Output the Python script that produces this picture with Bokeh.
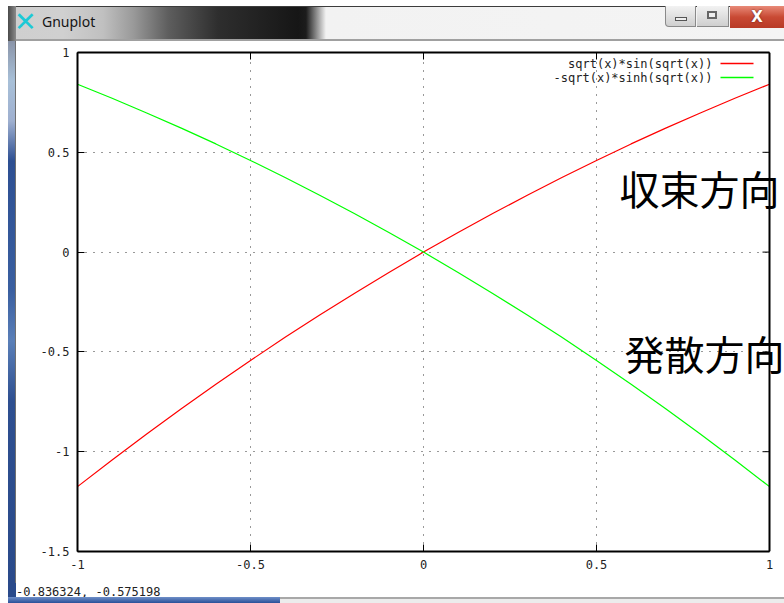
from bokeh.plotting import figure
from bokeh.models import (Range1d, FixedTicker, LinearAxis, Label, BoxAnnotation,
                          Span, Div)
from bokeh.layouts import column, row
from bokeh.embed import file_html
from bokeh.resources import INLINE

# ---------------- data ----------------
x_vals = [-1.0, -0.9, -0.8, -0.7, -0.6, -0.5, -0.4, -0.3, -0.2, -0.1, 0.0,
          0.1, 0.2, 0.3, 0.4, 0.5, 0.6, 0.7, 0.8, 0.9, 1.0]
red_vals = [-1.175, -1.042, -0.911, -0.785, -0.662, -0.543, -0.427, -0.315, -0.207, -0.102, 0.0,
            0.098, 0.193, 0.285, 0.374, 0.459, 0.542, 0.621, 0.697, 0.771, 0.841]
green_vals = [0.841, 0.771, 0.697, 0.621, 0.542, 0.459, 0.374, 0.285, 0.193, 0.098, 0.0,
              -0.102, -0.207, -0.315, -0.427, -0.543, -0.662, -0.785, -0.911, -1.042, -1.175]
series_names = ["sqrt(x)*sin(sqrt(x))", "-sqrt(x)*sinh(sqrt(x))"]
series_colors = ["#ff0000", "#00ff00"]
x_ticks = [-1, -0.5, 0, 0.5, 1]
x_tick_labels = ["-1", "-0.5", "0", "0.5", "1"]
y_ticks = [-1.5, -1, -0.5, 0, 0.5, 1]
y_tick_labels = ["-1.5", "-1", "-0.5", "0", "0.5", "1"]
overlay_texts = ["収束方向", "発散方向"]
status_text = "-0.836324, -0.575198"
window_title = "Gnuplot"

# ---------------- geometry (page pixels) ----------------
W, H = 784, 603
TITLE_H, LEFT_W, BOTTOM_H = 41, 16, 20
FIG_W, FIG_H = W - LEFT_W, H - TITLE_H - BOTTOM_H
L, R, T, B = 77, 769, 52, 551          # gnuplot plot box, page pixels
XMIN, XMAX, YMIN, YMAX = -1.0, 1.0, -1.5, 1.0


def dx(px):
    return XMIN + (px - L) * (XMAX - XMIN) / (R - L)


def dy(py):
    return YMAX - (py - T) * (YMAX - YMIN) / (B - T)


MONO = "DejaVu Sans Mono"
TICK_LEN = 7

p = figure(width=FIG_W, height=FIG_H, output_backend="svg", toolbar_location=None,
           x_range=Range1d(XMIN, dx(W)), y_range=Range1d(YMIN, YMAX),
           min_border_left=L - LEFT_W, min_border_right=0,
           min_border_top=T - TITLE_H, min_border_bottom=(H - BOTTOM_H) - B)
p.background_fill_color = "white"
p.border_fill_color = "white"
p.outline_line_color = None

for ax in (p.xaxis[0], p.yaxis[0]):
    ax.axis_line_color = "black"
    ax.axis_line_width = 2
    ax.major_tick_in = TICK_LEN
    ax.major_tick_out = 0
    ax.major_tick_line_color = "black"
    ax.minor_tick_line_color = None
    ax.major_label_text_font = MONO
    ax.major_label_text_font_size = "12px"
    ax.major_label_text_color = "#222222"
    ax.major_label_standoff = 8

p.xaxis[0].ticker = FixedTicker(ticks=x_ticks)
p.xaxis[0].bounds = (XMIN, XMAX)
p.xaxis[0].major_label_overrides = {t: s for t, s in zip(x_ticks, x_tick_labels)}
p.yaxis[0].ticker = FixedTicker(ticks=y_ticks)
p.yaxis[0].major_label_overrides = {t: s for t, s in zip(y_ticks, y_tick_labels)}

# mirrored top border with ticks
top_ax = LinearAxis(ticker=FixedTicker(ticks=x_ticks), bounds=(XMIN, XMAX),
                    major_label_overrides={t: "" for t in x_ticks})
top_ax.axis_line_color = "black"
top_ax.axis_line_width = 2
top_ax.major_tick_in = TICK_LEN
top_ax.major_tick_out = 0
top_ax.minor_tick_line_color = None
top_ax.major_label_standoff = 0
top_ax.major_label_text_font_size = "1px"
p.add_layout(top_ax, "above")

# grid
p.xgrid.ticker = FixedTicker(ticks=x_ticks)
p.ygrid.ticker = FixedTicker(ticks=y_ticks)
for g in (p.xgrid[0], p.ygrid[0]):
    g.grid_line_color = "#333333"
    g.grid_line_dash = "1 7"
    g.grid_line_width = 1

# white client area to the right of the plot box
p.add_layout(BoxAnnotation(left=XMAX, right=dx(W + 20), top=dy(0), bottom=dy(H),
                           fill_color="white", fill_alpha=1.0, line_color=None,
                           level="underlay"))

# right border and its ticks
p.add_layout(Span(location=XMAX, dimension="height", line_color="black", line_width=2))
tick_dx = TICK_LEN * (XMAX - XMIN) / (R - L)
p.segment(x0=[XMAX] * len(y_ticks), y0=y_ticks, x1=[XMAX - tick_dx] * len(y_ticks),
          y1=y_ticks, line_color="black", line_width=1)

# ---------------- curves ----------------
p.line(x_vals, red_vals, line_color=series_colors[0], line_width=1.2)
p.line(x_vals, green_vals, line_color=series_colors[1], line_width=1.2)

# legend (gnuplot style: text then sample)
for i, (name, col) in enumerate(zip(series_names, series_colors)):
    yy = dy(63 + 14 * i)
    p.add_layout(Label(x=dx(712), y=yy, text=name, text_align="right",
                       text_baseline="middle", text_font=MONO,
                       text_font_size="12px", text_color="#222222"))
    p.segment(x0=[dx(720)], y0=[yy], x1=[dx(753)], y1=[yy],
              line_color=col, line_width=1.5)

# big overlay texts
p.add_layout(Label(x=dx(619), y=dy(187), text=overlay_texts[0], text_align="left",
                   text_baseline="middle", text_font="Noto Sans CJK JP",
                   text_font_size="40px", text_color="black", level="overlay"))
p.add_layout(Label(x=dx(624), y=dy(352), text=overlay_texts[1], text_align="left",
                   text_baseline="middle", text_font="Noto Sans CJK JP",
                   text_font_size="40px", text_color="black", level="overlay"))

# ---------------- window chrome (HTML) ----------------
title_html = (
    f'<div style="position:relative;width:{W}px;height:{TITLE_H}px;background:#ffffff;'
    'overflow:hidden;margin:0;padding:0;">'
    '<div style="position:absolute;left:8px;top:6px;width:776px;height:34px;'
    'background:linear-gradient(90deg,#3a3a3a 0px,#cfcfcf 3px,#d0d0d0 55px,#c0c0c0 95px,'
    '#9a9a9a 125px,#5e5e5e 160px,#2e2e2e 210px,#161616 290px,#1c1c1c 298px,#f2f2f2 318px,'
    '#f4f4f4 100%);border-top:1px solid #3c3c3c;"></div>'
    '<div style="position:absolute;left:8px;top:6px;width:8px;height:35px;'
    'background:linear-gradient(90deg,#4a4a4a,#8a8a8a);"></div>'
    '<div style="position:absolute;left:16px;top:39px;width:768px;height:2px;background:#a0a0a0;"></div>'
    '<div style="position:absolute;left:14px;top:7px;font-family:\'DejaVu Sans\';font-size:27px;'
    'line-height:30px;color:#1cc9d6;font-weight:bold;">&#x2715;</div>'
    '<div style="position:absolute;left:42px;top:13px;font-family:\'Noto Sans\';font-size:14px;'
    f'line-height:18px;color:#151515;">{window_title}</div>'
    '<div style="position:absolute;left:665px;top:6px;width:31px;height:21px;border:1px solid #8a8a8a;'
    'border-top:none;border-bottom-left-radius:4px;background:linear-gradient(#f2f2f2,#cfcfcf);"></div>'
    '<div style="position:absolute;left:675px;top:17px;width:12px;height:4px;border:1px solid #555;background:#eee;"></div>'
    '<div style="position:absolute;left:697px;top:6px;width:32px;height:21px;border:1px solid #8a8a8a;'
    'border-top:none;border-left:none;background:linear-gradient(#f2f2f2,#cfcfcf);"></div>'
    '<div style="position:absolute;left:707px;top:11px;width:10px;height:8px;border:2px solid #666;background:#eee;"></div>'
    '<div style="position:absolute;left:730px;top:6px;width:54px;height:22px;'
    'background:linear-gradient(#e88a78,#c94a34 50%,#b83a26);"></div>'
    '<div style="position:absolute;left:730px;top:6px;width:54px;height:22px;text-align:center;'
    'font-family:\'DejaVu Sans\';font-weight:bold;font-size:15px;line-height:22px;color:#ffffff;'
    'text-shadow:0 0 2px #5a1a10;">X</div>'
    '</div>'
)
left_html = (
    f'<div style="position:relative;width:{LEFT_W}px;height:{FIG_H}px;background:#ffffff;margin:0;">'
    f'<div style="position:absolute;left:8px;top:0;width:8px;height:{FIG_H}px;'
    'background:linear-gradient(#8a94a8 0px,#a8c0d8 40px,#9fb0d0 80px,#2d4f92 120px,#3a5fa0 250px,'
    '#5a7fb8 300px,#2e4f90 360px,#2a4a8a 100%);"></div>'
    f'<div style="position:absolute;left:15px;top:0;width:1px;height:{FIG_H}px;background:#707070;"></div>'
    '</div>'
)
bottom_html = (
    f'<div style="position:relative;width:{W}px;height:{BOTTOM_H}px;background:#ffffff;'
    'overflow:hidden;margin:0;">'
    f'<div style="position:absolute;left:8px;top:0;width:8px;height:{BOTTOM_H}px;background:#2a4a8a;"></div>'
    '<div style="position:absolute;left:16px;top:1px;font-family:\'DejaVu Sans Mono\';font-size:12px;'
    f'line-height:17px;color:#222222;">{status_text}</div>'
    '<div style="position:absolute;left:8px;top:14px;width:272px;height:6px;'
    'background:linear-gradient(#6f8fc8,#2a4f98);"></div>'
    '<div style="position:absolute;left:280px;top:14px;width:504px;height:2px;background:#a8a8a8;"></div>'
    '<div style="position:absolute;left:280px;top:16px;width:504px;height:4px;background:#ececec;"></div>'
    '</div>'
)

title_div = Div(text=title_html, width=W, height=TITLE_H, margin=0)
left_div = Div(text=left_html, width=LEFT_W, height=FIG_H, margin=0)
bottom_div = Div(text=bottom_html, width=W, height=BOTTOM_H, margin=0)

layout = column(title_div, row(left_div, p, spacing=0), bottom_div, spacing=0)

open("out.html", "w").write(file_html(layout, INLINE))
